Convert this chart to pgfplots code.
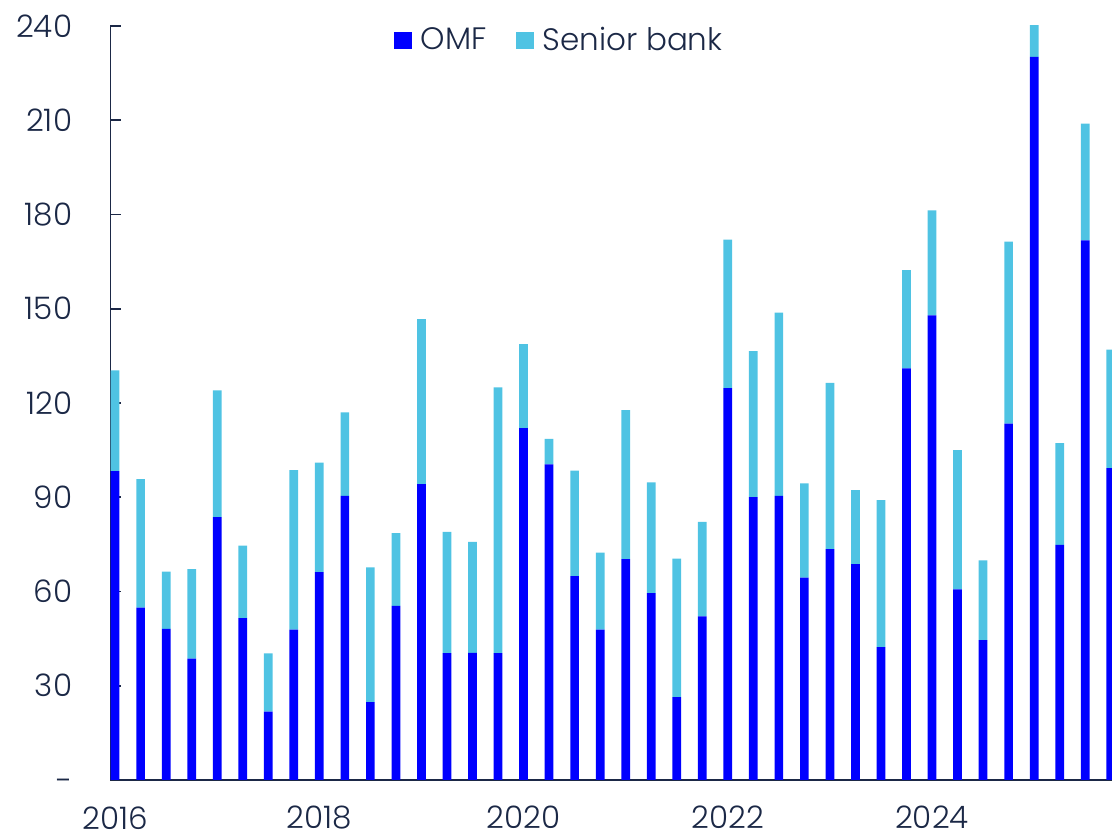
\documentclass[border=0pt]{standalone}
\usepackage{fontspec}
\setmainfont{Poppins Light}
\usepackage{pgfplots}
\usepackage{pgfplotstable}
\pgfplotsset{compat=1.18}
\definecolor{omf}{RGB}{0,0,255}
\definecolor{snr}{RGB}{79,195,227}
\definecolor{txt}{RGB}{27,40,70}
\pgfplotstableread{
x omf snr
0 98.3 32.1
1 54.9 40.9
2 48.1 18.2
3 38.6 28.5
4 83.7 40.3
5 51.5 23.1
6 21.8 18.5
7 47.9 50.7
8 66.2 34.8
9 90.4 26.6
10 24.8 42.9
11 55.4 23.2
12 94.2 52.5
13 40.4 38.6
14 40.5 35.3
15 40.4 84.6
16 112.0 26.7
17 100.5 8.1
18 64.9 33.6
19 47.9 24.5
20 70.3 47.4
21 59.5 35.2
22 26.4 44.1
23 52.1 30.1
24 124.7 47.3
25 90.0 46.5
26 90.4 58.4
27 64.4 30.0
28 73.5 52.9
29 68.7 23.6
30 42.3 46.8
31 131.0 31.3
32 147.9 33.4
33 60.7 44.3
34 44.5 25.4
35 113.4 58.0
36 230.2 10.3
37 74.8 32.4
38 171.8 37.1
39 99.3 37.7
}\data
\begin{document}
\begin{tikzpicture}
\begin{axis}[
  at={(0pt,0pt)}, anchor=south west,
  scale only axis, width=500.75pt, height=377pt,
  xmin=-0.18, xmax=39.05, ymin=0, ymax=240,
  ybar stacked, bar width=4.35pt, bar shift=0pt,
  axis lines=left, axis line style={-, draw=txt, line width=0.7pt},
  xtick={0,8,16,24,32},
  xticklabels={2016,2018,2020,2022,2024},
  xtick style={draw=none},
  ytick={0,30,60,90,120,150,180,210,240},
  yticklabels={{\smash{\raisebox{-6pt}{-}}\hspace{7pt}},30,60,90,120,150,180,210,240},
  ytick style={draw=txt, line width=0.9pt},
  tick align=inside, major tick length=5pt,
  ytick pos=left,
  tick label style={font=\fontsize{15.5}{18}\selectfont, text=txt},
  yticklabel style={anchor=east, inner sep=0pt, xshift=-19pt},
  xticklabel style={anchor=north, inner sep=0pt, yshift=-13pt},
  legend style={at={(0.449,0.981)}, anchor=center, draw=none, fill=none,
    legend columns=-1, font=\fontsize{15.5}{18}\selectfont, text=txt,
    /tikz/every odd column/.append style={column sep=2.5pt},
    /tikz/every even column/.append style={column sep=12.5pt}},
  legend image code/.code={\fill[#1] (0pt,-4.25pt) rectangle (9pt,4.25pt);},
]
\addplot[fill=omf, draw=none] table[x=x, y=omf] {\data};
\addlegendentry{OMF}
\addplot[fill=snr, draw=none] table[x=x, y=snr] {\data};
\addlegendentry{Senior bank}
\end{axis}
\pgfresetboundingbox
\path[use as bounding box] (-55.25pt,-29.5pt) rectangle (500.75pt,390pt);
\end{tikzpicture}
\end{document}
